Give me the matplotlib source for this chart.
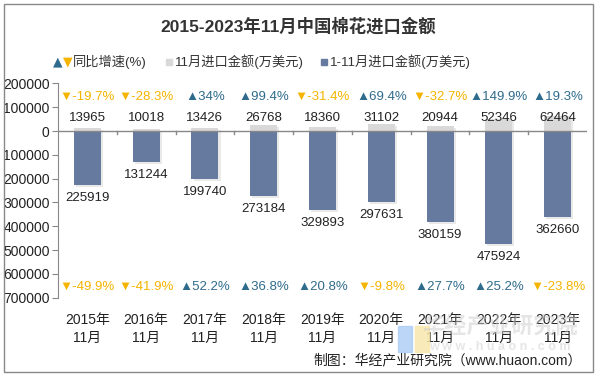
import matplotlib
matplotlib.use("Agg")
import matplotlib.pyplot as plt
from matplotlib.patches import Rectangle
import matplotlib.patheffects as pe

plt.rcParams['font.family'] = ['Liberation Sans', 'Noto Sans CJK SC', 'DejaVu Sans']

years = ["2015年\n11月", "2016年\n11月", "2017年\n11月", "2018年\n11月", "2019年\n11月",
         "2020年\n11月", "2021年\n11月", "2022年\n11月", "2023年\n11月"]
nov_value = [13965, 10018, 13426, 26768, 18360, 31102, 20944, 52346, 62464]
cum_value = [225919, 131244, 199740, 273184, 329893, 297631, 380159, 475924, 362660]
nov_growth = [-19.7, -28.3, 34, 99.4, -31.4, 69.4, -32.7, 149.9, 19.3]
cum_growth = [-49.9, -41.9, 52.2, 36.8, 20.8, -9.8, 27.7, 25.2, -23.8]
yticks = [200000, 100000, 0, -100000, -200000, -300000, -400000, -500000, -600000, -700000]

UP = '#2f6b8c'
DOWN = '#f5b400'
DARK = '#66799f'
LIGHT = '#d9d9d9'

fig = plt.figure(figsize=(5.97, 3.76), dpi=100)
ax = fig.add_axes([58/597, 1-297.7/376, (587-58)/597, (297.7-83.4)/376])

x = list(range(len(years)))
w = 0.46
shadow = [pe.SimplePatchShadow(offset=(1.5, -1.5), shadow_rgbFace='#aaaaaa', alpha=0.25), pe.Normal()]
ax.bar(x, nov_value, width=w, color=LIGHT, zorder=2, path_effects=shadow)
ax.bar(x, [-v for v in cum_value], width=w, color=DARK, zorder=3, path_effects=shadow)

def fmt(g):
    return f"{g:g}%"

for i in x:
    ax.text(i, 55000, f"{nov_value[i]}", ha='center', va='center', fontsize=9.5, color='#222222')
    ax.text(i, -cum_value[i] - 55000, f"{cum_value[i]}", ha='center', va='center', fontsize=9.5, color='#222222')
    g = nov_growth[i]
    ax.text(i, 143000, ("▲" if g >= 0 else "▼") + fmt(g), ha='center', va='center', fontsize=9.5,
            color=UP if g >= 0 else DOWN)
    g2 = cum_growth[i]
    ax.text(i, -655000, ("▲" if g2 >= 0 else "▼") + fmt(g2), ha='center', va='center', fontsize=9.5,
            color=UP if g2 >= 0 else DOWN)

ax.set_xlim(-0.5, len(years) - 0.5)
ax.set_ylim(-700000, 200000)
ax.set_yticks(yticks)
ax.set_yticklabels([f"{abs(t)}" for t in yticks], fontsize=10, color='#222222')
ax.tick_params(axis='y', length=4, color='#888888', pad=2)
ax.set_xticks([])
for s in ['top', 'right', 'bottom']:
    ax.spines[s].set_visible(False)
ax.spines['left'].set_color('#888888')
ax.axhline(0, color='#888888', lw=1, zorder=4)
for b in range(1, len(years)):
    ax.plot([b - 0.5, b - 0.5], [0, -12000], color='#888888', lw=1, zorder=4)

for i, lab in enumerate(years):
    ax.text(i, -832000, lab, ha='center', va='center', fontsize=10, color='#222222',
            linespacing=1.3, clip_on=False, zorder=5)

# title
fig.text(0.5, 1 - 26/376, "2015-2023年11月中国棉花进口金额", ha='center', va='center',
         fontsize=12.5, fontweight='bold', color='#333333')

# legend
ly = 1 - 62/376
fig.text(53/597, ly, "▲", color=UP, fontsize=9, ha='left', va='center', family=['DejaVu Sans'])
fig.text(63/597, ly, "▼", color=DOWN, fontsize=9, ha='left', va='center', family=['DejaVu Sans'])
fig.text(73/597, ly, "同比增速(%)", color='#333333', fontsize=9.5, ha='left', va='center')
fig.patches.append(Rectangle((166/597, ly - 3/376), 6/597, 6/376, transform=fig.transFigure, color=LIGHT))
fig.text(175/597, ly, "11月进口金额(万美元)", color='#333333', fontsize=9.5, ha='left', va='center')
fig.patches.append(Rectangle((321/597, ly - 3/376), 6/597, 6/376, transform=fig.transFigure, color=DARK))
fig.text(330/597, ly, "1-11月进口金额(万美元)", color='#333333', fontsize=9.5, ha='left', va='center')

# watermark
fig.patches.append(Rectangle((398/597, 1 - 352/376), 14/597, 26/376, transform=fig.transFigure,
                             color='#aaccf5', alpha=0.8, zorder=0))
fig.patches.append(Rectangle((415/597, 1 - 352/376), 14/597, 26/376, transform=fig.transFigure,
                             color='#f8e7a8', alpha=0.8, zorder=0))
fig.text(500/597, 1 - 327/376, "华经产业研究院", color='#cccccc', alpha=0.5, fontsize=16,
         fontweight='bold', ha='center', va='center', zorder=0)
fig.text(500/597, 1 - 347/376, "w w w . h u a o n . c o m", color='#cccccc', alpha=0.5, fontsize=9,
         fontweight='bold', ha='center', va='center', zorder=0)

fig.text(582/597, 1 - 360/376, "制图：华经产业研究院（www.huaon.com）", color='#222222', fontsize=10,
         ha='right', va='center', zorder=5)

# frame
fig.patches.append(Rectangle((4/597, 4/376), 589/597, 368/376, transform=fig.transFigure,
                             fill=False, edgecolor='#888888', lw=1))

fig.savefig("out.png", dpi=100)
